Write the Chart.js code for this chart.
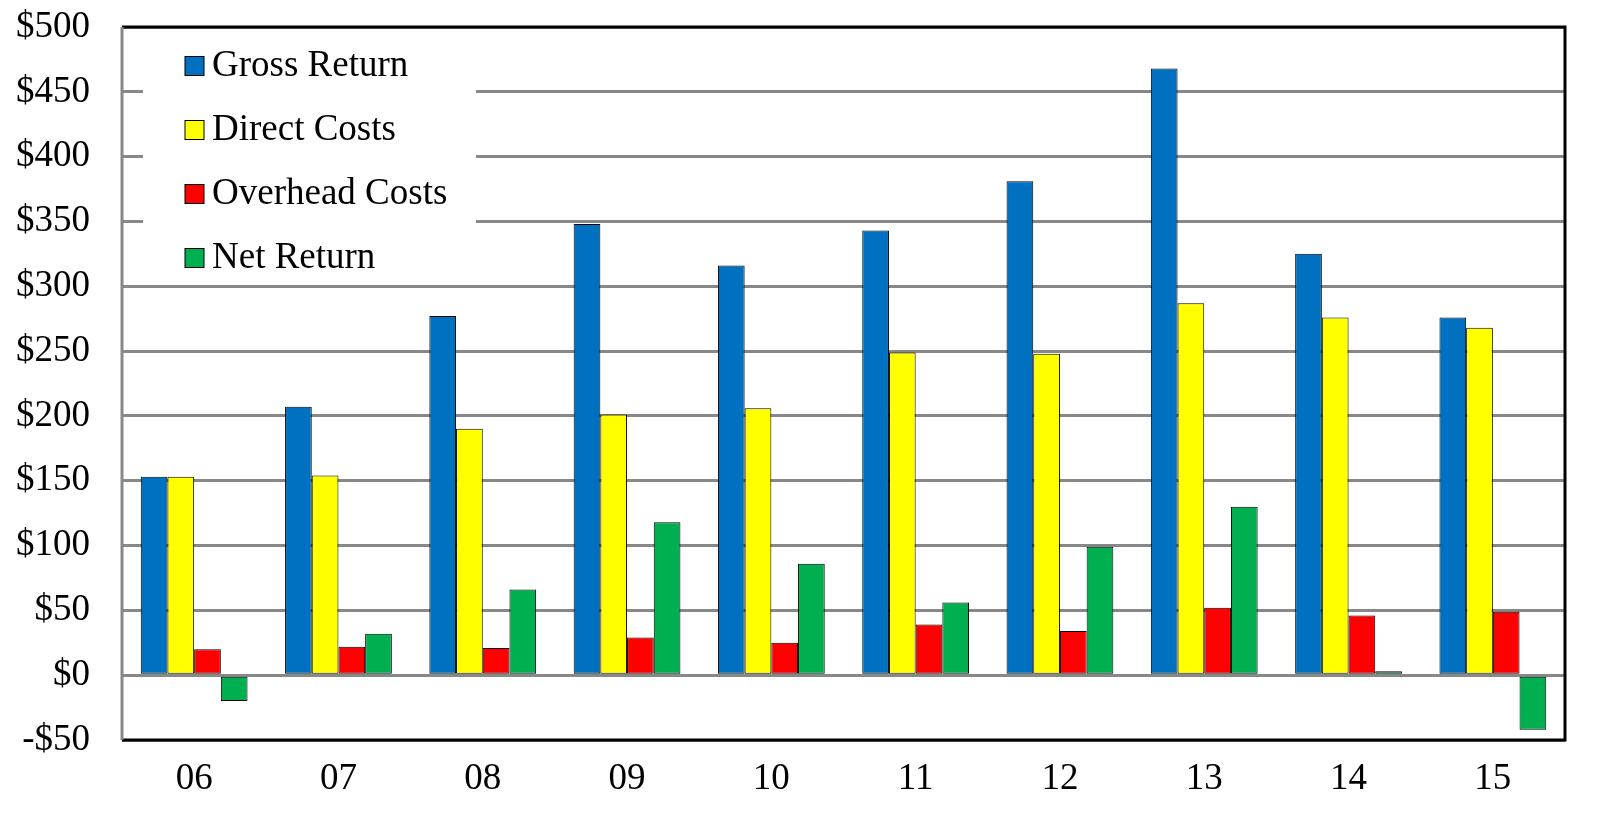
<!DOCTYPE html>
<html>
<head>
<meta charset="utf-8">
<script src="https://cdn.jsdelivr.net/npm/chart.js@4.4.0/dist/chart.umd.min.js"></script>
<style>
  html, body { margin: 0; padding: 0; background: #fff; }
  #wrap { width: 1615px; height: 827px; }
</style>
</head>
<body>
<div id="wrap"><canvas id="grafico" width="1615" height="827"></canvas></div>
<script>
// years on the x axis
const years = ['06', '07', '08', '09', '10', '11', '12', '13', '14', '15'];
// values in dollars
const grossReturn = [153, 207, 277, 348, 316, 343, 381, 468, 325, 276];
const directCosts = [153, 154, 190, 201, 206, 249, 248, 287, 276, 268];
const overheadCosts = [20, 22, 21, 29, 25, 39, 34, 52, 46, 49];
const netReturn = [-20, 32, 66, 118, 86, 56, 99, 130, 3, -42];
const seriesNames = ['Gross Return', 'Direct Costs', 'Overhead Costs', 'Net Return'];
const seriesColors = ['#0070C0', '#FFFF00', '#FF0000', '#00B050'];

const fonte = 'Liberation Serif, Times New Roman, serif';

// legend inside the plot, on a white box that hides the grid
const legendaInterna = {
  id: 'legendaInterna',
  beforeDatasetsDraw(chart) {
    const ctx = chart.ctx;
    ctx.save();
    ctx.fillStyle = '#fff';
    ctx.fillRect(143, 30, 333, 245);
    ctx.restore();
  },
  afterDraw(chart) {
    const ctx = chart.ctx;
    const a = chart.chartArea;
    ctx.save();
    // frame: black top, right, bottom; gray left
    ctx.lineWidth = 3;
    ctx.strokeStyle = '#000';
    ctx.beginPath();
    ctx.moveTo(a.left, a.top);
    ctx.lineTo(a.right, a.top);
    ctx.lineTo(a.right, a.bottom);
    ctx.lineTo(a.left, a.bottom);
    ctx.stroke();
    ctx.strokeStyle = '#888';
    ctx.beginPath();
    ctx.moveTo(a.left, a.top);
    ctx.lineTo(a.left, a.bottom);
    ctx.stroke();

    ctx.font = '37px ' + fonte;
    ctx.textBaseline = 'middle';
    seriesNames.forEach((nome, i) => {
      const y = 66 + i * 64;
      ctx.fillStyle = seriesColors[i];
      ctx.fillRect(185, y - 9.5, 19, 19);
      ctx.lineWidth = 1;
      ctx.strokeStyle = '#000';
      ctx.strokeRect(185, y - 9.5, 19, 19);
      ctx.fillStyle = '#000';
      ctx.fillText(nome, 212, y);
    });
    ctx.restore();
  }
};

const ctxGrafico = document.getElementById('grafico').getContext('2d');
new Chart(ctxGrafico, {
  type: 'bar',
  data: {
    labels: years,
    datasets: [grossReturn, directCosts, overheadCosts, netReturn].map((valores, i) => ({
      label: seriesNames[i],
      data: valores,
      backgroundColor: seriesColors[i],
      borderColor: '#000',
      borderWidth: 1,
      borderSkipped: false,
      barPercentage: 1,
      categoryPercentage: 0.74
    }))
  },
  options: {
    responsive: false,
    animation: false,
    layout: { padding: { top: 27, right: 50, left: 0, bottom: 0 } },
    plugins: {
      legend: { display: false },
      tooltip: { enabled: false }
    },
    scales: {
      x: {
        grid: { display: false, drawTicks: false },
        border: { display: false },
        ticks: { color: '#000', font: { family: fonte, size: 37 }, padding: 17 },
        afterFit(scale) {
          scale.height = 87;
          scale.paddingLeft = 0;
          scale.paddingRight = 0;
        }
      },
      y: {
        min: -50,
        max: 500,
        grid: { color: '#888', lineWidth: 3, drawTicks: false },
        border: { display: false },
        ticks: {
          stepSize: 50,
          color: '#000',
          padding: 32,
          font: { family: fonte, size: 37 },
          callback: v => (v < 0 ? '-$' + Math.abs(v) : '$' + v)
        },
        afterFit(scale) {
          scale.width = 122;
          scale.paddingTop = 0;
          scale.paddingBottom = 0;
        }
      }
    }
  },
  plugins: [legendaInterna]
});
</script>
</body>
</html>
